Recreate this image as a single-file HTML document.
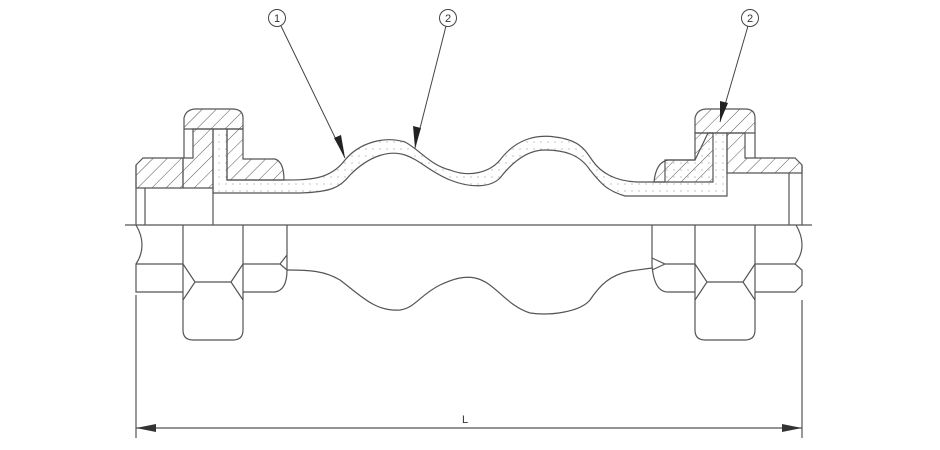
<!DOCTYPE html>
<html><head><meta charset="utf-8"><style>html,body{margin:0;padding:0;background:#fff}svg{display:block}</style></head>
<body>
<svg width="940" height="450" viewBox="0 0 940 450" xmlns="http://www.w3.org/2000/svg">
<defs>
<pattern id="h" width="10" height="10" patternUnits="userSpaceOnUse" patternTransform="rotate(45)">
<line x1="0" y1="0" x2="0" y2="10" stroke="#555" stroke-width="1"/></pattern>
<pattern id="d" width="7" height="7" patternUnits="userSpaceOnUse"><circle cx="2" cy="2" r="0.6" fill="#999"/></pattern>
</defs>
<g fill="none" stroke="#555" stroke-width="1.2">
<!-- rubber fill -->
<path fill="url(#d)" d="M213,129 L227,129 L227,180 L280,180 C310,180 330,180 345,160 C360,142 385,136 405,142 C420,150 430,165 450,170 C470,178 490,172 500,160 C515,140 535,134 555,137 C580,140 585,150 592,160 C600,172 615,182 640,182 L665,182 L665,160 L695,160 L708,133 L727,133 L727,196 L625,196 C605,190 600,182 590,170 C580,155 565,150 545,150 C525,150 510,165 500,178 C490,188 470,188 450,180 C430,172 420,160 405,155 C390,150 370,155 350,175 C340,188 330,192 300,193 L213,193 Z"/>
<!-- left body -->
<path fill="url(#h)" d="M136,165 L143,158 L183,158 L183,188 L136,188 Z"/>
<path fill="url(#h)" d="M183,158 L193,158 L193,129 L213,129 L213,188 L183,188 Z"/>
<path fill="url(#h)" d="M184,129 L184,118 Q186,109 196,109 L232,109 Q243,109 243,118 L243,129 Z"/>
<path fill="url(#h)" d="M227,129 L243,129 L243,159 L275,159 Q284,162 284,180 L227,180 Z"/>
<path d="M184,129 L184,158"/>
<!-- right body -->
<path fill="url(#h)" d="M695,133 L695,118 Q697,109 707,109 L745,109 Q755,109 755,118 L755,133 Z"/>
<path fill="url(#h)" d="M654,182 Q656,162 668,160 L695,160 L695,133 L713,133 L713,182 Z"/>
<path fill="url(#h)" d="M727,133 L745,133 L745,158 L795,158 L802,165 L802,173 L727,173 Z"/>
<path d="M755,133 L755,158"/>
<!-- verticals upper -->
<path d="M136,165 L136,225 M145,188 L145,225 M213,188 L213,225 M789,173 L789,225 M802,165 L802,225"/>
<!-- centerline -->
<path d="M125,225 L812,225"/>
<!-- lower left hex -->
<path d="M136,225 Q142,235 142,245 Q142,255 136,264 L136,292 L143,292 L183,292 M136,264 L145,264 L183,264"/>
<path d="M183,225 L183,330 Q183,340 193,340 L233,340 Q243,340 243,330 L243,225"/>
<path d="M183,264 L195,282 L183,300 M195,282 L231,282 L243,264 M231,282 L243,300"/>
<path d="M243,264 L280,264 L287,255 M243,292 L275,292 Q287,290 287,270 L287,225"/>
<path d="M280,264 L287,270"/>
<!-- lower right hex -->
<path d="M652,225 L652,265 Q654,292 668,292 L695,292 M652,258 L665,264 L695,264 M652,270 L665,264"/>
<path d="M695,225 L695,330 Q695,340 705,340 L745,340 Q755,340 755,330 L755,225"/>
<path d="M695,264 L707,282 L695,300 M707,282 L743,282 L755,264 M743,282 L755,300"/>
<path d="M755,264 L795,264 Q802,255 802,245 Q802,235 796,225 M755,292 L795,292 L802,285 L802,270 L795,264"/>
<!-- lower rubber -->
<path d="M287,270 C310,270 325,271 340,280 C360,295 375,312 400,310 C415,308 420,295 440,285 C455,278 465,276 475,278 C495,282 505,305 530,313 C550,316 580,312 590,300 C600,285 610,275 630,271 L652,268"/>
<!-- dimension -->
<path d="M136,295 L136,438 M802,300 L802,438 M136,428 L802,428"/>
</g>
<g fill="#333">
<path d="M136,428 L156,424 L156,432 Z"/><path d="M802,428 L782,424 L782,432 Z"/>
</g>
<text x="465" y="423" font-family="Liberation Sans, sans-serif" font-size="11" fill="#333" text-anchor="middle">L</text>
<!-- leaders -->
<g stroke="#444" stroke-width="1" fill="none">
<circle cx="277" cy="18" r="8.5"/><circle cx="448" cy="18" r="8.5"/><circle cx="750" cy="18" r="8.5"/>
<path d="M281,26 L345,158 M446,26 L415,148 M748,26 L720,122"/>
</g>
<g fill="#222">
<path d="M345,158 L334,138 L341,135 Z"/><path d="M415,148 L413,126 L421,128 Z"/><path d="M720,122 L720,101 L728,103 Z"/>
</g>
<g font-family="Liberation Sans, sans-serif" font-size="11" fill="#333" text-anchor="middle">
<text x="277" y="22">1</text><text x="448" y="22">2</text><text x="750" y="22">2</text>
</g>
</svg>
</body></html>
